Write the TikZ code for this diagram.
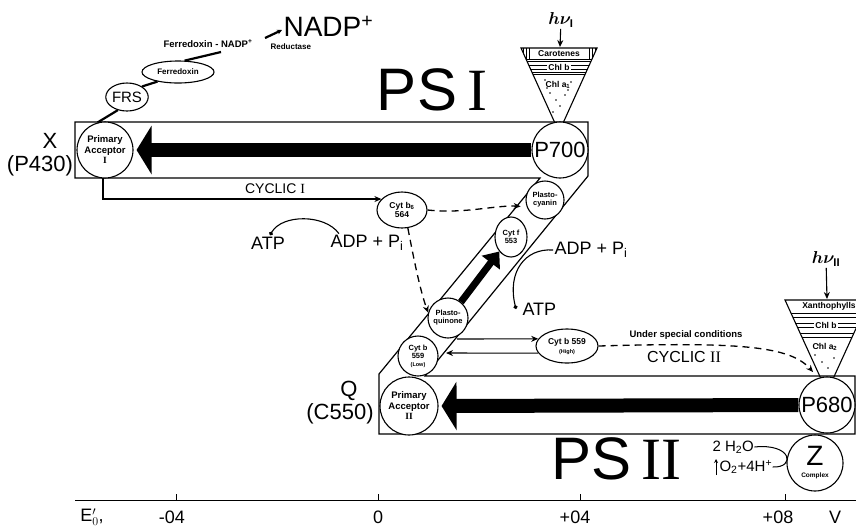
\documentclass[tikz,border=0pt]{standalone}
\usepackage{bm}
\usepackage{fontspec}
\setmainfont{Liberation Sans}
\newfontfamily\romnum{Liberation Serif}
\usetikzlibrary{arrows.meta,shapes.geometric}
\begin{document}
\begin{tikzpicture}[x=1pt,y=-1pt,line width=1.1pt,
 every node/.style={inner sep=1pt},
 circ/.style={circle,draw,fill=white,inner sep=0pt,align=center,line width=1.1pt},
 ell/.style={ellipse,draw,fill=white,inner sep=0pt,align=center,line width=1.1pt},
 tinyb/.style={font=\bfseries\fontsize{7.5}{8}\selectfont},
 accb/.style={font=\bfseries\fontsize{9.5}{10.5}\selectfont},
 big/.style={font=\fontsize{22}{22}\selectfont},
 med/.style={font=\fontsize{18}{18}\selectfont},
 tri/.style={font=\bfseries\fontsize{8.5}{8.5}\selectfont},
 con/.style={line width=2.2pt},
 arr/.style={-{Stealth[length=7pt,width=6pt]}},
 dsh/.style={dash pattern=on 7pt off 5pt,line width=1.3pt},
 fat/.style={line width=14pt,-{Triangle[length=15pt,width=48pt]}},
 thinl/.style={line width=0.7pt},
]
\useasboundingbox (0,0) rectangle (856,531);

% boxes and Z band
\draw[line width=1.2pt] (75,122) -- (588,122) -- (588,176) -- (425,376) -- (855,376) -- (855,434)
  -- (379,434) -- (379,374) -- (540,178) -- (75,178) -- cycle;

% PS I antenna
\draw (521,48) -- (597,48) -- (559,132) -- cycle;
\begin{scope}
 \clip (521,48) -- (597,48) -- (559,132) -- cycle;
 \foreach \y in {59,61,65,69,72,74} \draw[thinl] (500,\y) -- (620,\y);
 \foreach \x in {523,526,529,589,592,595} \draw[thinl] (\x,48) -- (\x,59);
 \foreach \p in {(545,80),(550,93),(565,95),(571,82),(556,100),(547,88),(568,90),(560,106),(553,112)} \fill \p circle (0.8);
\end{scope}
\node[tri] (car) at (559,53.5) {Carotenes};
\node[tri,fill=white,inner sep=1.5pt] (chlb1) at (559,67) {Chl b};
\node[tri] (chla1) at (558,85) {Chl a\textsubscript{1}};

% PS II antenna
\draw (785,300) -- (869,300) -- (827,392) -- cycle;
\begin{scope}
 \clip (785,300) -- (869,300) -- (827,392) -- cycle;
 \foreach \y in {313,317,323,327,333,337} \draw[thinl] (760,\y) -- (880,\y);
 \foreach \p in {(815,355),(822,362),(834,358),(828,368),(818,345)} \fill \p circle (0.8);
\end{scope}
\node[tri] (xan) at (829,306.5) {Xanthophylls};
\node[tri,fill=white,inner sep=1.5pt] (chlb2) at (826,325) {Chl b};
\node[tri] (chla2) at (825,347) {Chl a\textsubscript{2}};

% light
\node[font=\fontsize{16}{16}\selectfont] (hv1) at (561,20) {$\bm{h\nu_{\mathrm{I}}}$};
\coordinate (t1) at (560,47);
\draw[arr] (hv1) -- (t1);
\node[font=\fontsize{16}{16}\selectfont] (hv2) at (826,259) {$\bm{h\nu_{\mathrm{II}}}$};
\coordinate (t2top) at (827,299);
\draw[arr] (hv2) -- (t2top);

% reaction centres and acceptors
\node[circ,minimum size=56pt,accb] (PA1) at (105,150) {Primary\\Acceptor\\\romnum I};
\node[circ,minimum size=56pt,big] (P700) at (560,150) {P700};
\node[circ,minimum size=58pt,accb] (PA2) at (409,406) {Primary\\Acceptor\\\romnum II};
\node[circ,minimum size=56pt,big] (P680) at (827,405) {P680};
\node[circ,minimum size=56pt,fill=none] (Z) at (815,463) {{\fontsize{28}{28}\selectfont Z}\\[0pt]{\bfseries\fontsize{6.5}{6.5}\selectfont Complex}};

% carriers in band
\node[circ,minimum size=38pt,tinyb] (PC) at (545,200) {Plasto-\\cyanin};
\node[ell,minimum width=32pt,minimum height=40pt,tinyb] (Cf) at (511,237) {Cyt f\\553};
\node[circ,minimum size=40pt,tinyb] (PQ) at (448,318) {Plasto-\\quinone};
\node[circ,minimum size=40pt,tinyb] (CbL) at (418,356) {Cyt b\\559\\{\fontsize{5.5}{5.5}\selectfont(Low)}};
\node[ell,minimum width=50pt,minimum height=36pt,font=\bfseries\fontsize{8.5}{9}\selectfont] (Cb6) at (402,210) {Cyt b\textsubscript{6}\\564};
\node[ell,minimum width=62pt,minimum height=34pt,font=\bfseries\fontsize{8.5}{9}\selectfont] (CbH) at (567,346) {Cyt b 559\\{\fontsize{5.5}{5.5}\selectfont(High)}};

% ferredoxin chain
\node[ell,minimum width=42pt,minimum height=28pt,font=\fontsize{15}{15}\selectfont] (FRS) at (127,97) {FRS};
\node[ell,minimum width=72pt,minimum height=22pt,font=\bfseries\fontsize{8}{8}\selectfont] (Fd) at (178,72) {Ferredoxin};
\node[font=\bfseries\fontsize{9.5}{10}\selectfont,anchor=west] (Rd) at (162,44) {Ferredoxin - NADP\textsuperscript{+}};
\node[font=\bfseries\fontsize{8}{8}\selectfont,anchor=west] (Rd2) at (269,47) {Reductase};
\node[font=\fontsize{28}{28}\selectfont,anchor=west] (NADP) at (282,26) {NADP\textsuperscript{+}};
\draw[con] (PA1.105) -- (FRS.235);
\draw[con] (FRS.35) -- (Fd.205);
\coordinate (rdl) at (221,52);
\draw[con] (Fd.60) -- (rdl);
\coordinate (rdr) at (265,38);
\draw[con,-{Stealth[length=5pt,width=5pt]}] (rdr) -- ([yshift=-4pt]NADP.west);

% big electron arrows
\draw[fat] (P700.west) -- ([xshift=3pt]PA1.east);
\draw[fat] (P680.west) -- ([xshift=3pt]PA2.east);
\draw[line width=7pt,-{Triangle[length=14pt,width=22pt]}] (PQ.51) -- (Cf.231);

% cyclic I
\coordinate (c1) at (103,178);
\draw[arr] (c1) |- (Cb6.152);
\node[font=\fontsize{14}{14}\selectfont] (cyc1) at (275,189) {CYCLIC \romnum I};
\draw[dsh,arr,shorten >=6pt] (Cb6.east) .. controls (465,214) and (495,205) .. (PC.200);
\draw[dsh,arr] (Cb6.-72) .. controls (414,260) and (420,290) .. (PQ.165);

% phosphorylation
\node[med] (ATP1) at (268,243) {ATP};
\node[med,anchor=west] (ADP1) at (329,243) {ADP + P\textsubscript{i}};
\draw[{Circle[length=4pt]}-] ([xshift=2pt]ATP1.north) .. controls (282,214) and (325,214) .. ([xshift=10pt]ADP1.north west);
\node[med,anchor=west] (ADP2) at (553,250) {ADP + P\textsubscript{i}};
\node[med,anchor=west] (ATP2) at (521,309) {ATP};
\draw[-{Circle[length=4pt]}] (ADP2.west) .. controls (525,248) and (507,272) .. ([xshift=-5pt]ATP2.west);

% cyt b559 high
\coordinate (b1) at (457,339);
\coordinate (b2) at (446,353);
\draw[arr] (b1) -- (CbH.166);
\draw[arr] (CbH.194) -- (b2);
\coordinate (t2) at (813,372);
\draw[dsh,arr] (CbH.east) .. controls (740,342) and (790,346) .. (t2);
\node[font=\bfseries\fontsize{9.5}{10}\selectfont] (usc) at (686,335) {Under special conditions};
\node[font=\fontsize{16}{16}\selectfont] (cyc2) at (684,357) {CYCLIC \romnum II};

% water splitting
\node[font=\fontsize{15}{15}\selectfont,anchor=west,inner sep=0pt] (H2O) at (712,447) {2 H\textsubscript{2}O};
\node[font=\fontsize{15}{15}\selectfont,anchor=west,inner sep=0pt] (O2) at (719,467) {O\textsubscript{2}+4H\textsuperscript{+}};
\coordinate (u1) at (716,475);
\coordinate (u2) at (716,459);
\draw[line width=0.9pt,-{Stealth[length=4pt,width=4pt]}] (u1) -- (u2);
\draw[line width=1pt] (H2O.east) .. controls (792,443) and (796,468) .. (O2.east);

% side labels
\node[big] (X) at (50,141) {X};
\node[big] (P430) at (40,166) {(P430)};
\node[big] (Q) at (349,391) {Q};
\node[big] (C550) at (340,414) {(C550)};
\node[font=\fontsize{60}{60}\selectfont] (PS1) at (432,90) {PS\,\romnum I};
\node[font=\fontsize{60}{60}\selectfont] (PS2) at (616,459) {PS\,\romnum II};

% axis
\coordinate (axL) at (75,500);
\coordinate (axR) at (856,500);
\draw[line width=1pt] (axL) -- (axR);
\foreach \x in {176,378,580,785} \draw[line width=1pt] (\x,500) -- (\x,494);
\node[med] (e0) at (92,517) {E$'_{0}$,};
\node[med] (l1) at (172,517) {-04};
\node[med] (l2) at (378,517) {0};
\node[med] (l3) at (575,517) {+04};
\node[med] (l4) at (778,517) {+08};
\node[med] (lv) at (835,517) {V};
\end{tikzpicture}
\end{document}
